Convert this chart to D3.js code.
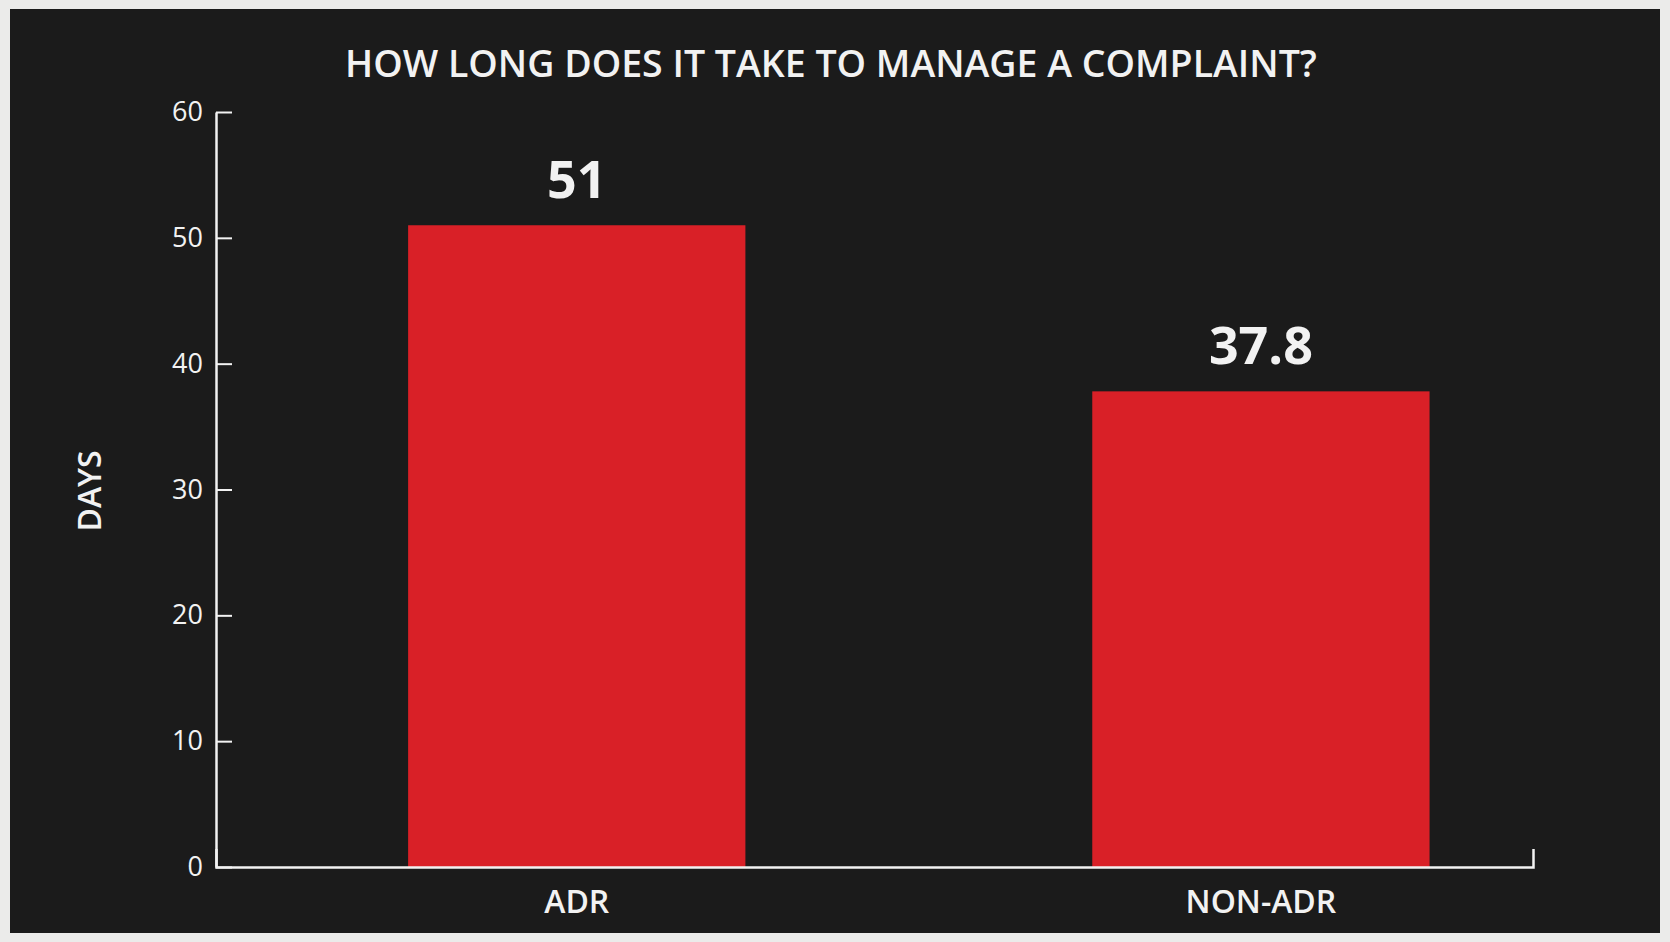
<!DOCTYPE html>
<html>
<head>
<meta charset="utf-8">
<script src="https://cdn.jsdelivr.net/npm/d3@7"></script>
<style>
  html, body { margin: 0; padding: 0; background: #ebebea; }
  svg { display: block; }
  text { font-family: "Open Sans", "Noto Sans", sans-serif; fill: #f2f2f2; }
</style>
</head>
<body>
<div id="chart"></div>
<script>
const categories = ["ADR", "NON-ADR"];
const values = [51, 37.8];
const valueLabels = ["51", "37.8"];
const yTicks = [0, 10, 20, 30, 40, 50, 60];
const title = "HOW LONG DOES IT TAKE TO MANAGE A COMPLAINT?";
const yLabel = "DAYS";

const width = 1670, height = 942;
const margin = {top: 112, right: 137, bottom: 75, left: 216};

const svg = d3.select("#chart").append("svg")
    .attr("width", width)
    .attr("height", height);

// light frame + dark panel
svg.append("rect")
    .attr("width", width).attr("height", height)
    .attr("fill", "#ebebea");
svg.append("rect")
    .attr("x", 10).attr("y", 9)
    .attr("width", 1650).attr("height", 924)
    .attr("fill", "#1b1b1b");

const x = d3.scaleBand()
    .domain(categories)
    .range([margin.left, width - margin.right])
    .paddingInner(0.507)
    .paddingOuter(0.216)
    .align(0.65);

const y = d3.scaleLinear()
    .domain([0, 60])
    .range([height - margin.bottom, margin.top]);

// bars
svg.append("g")
    .selectAll("rect")
    .data(categories)
    .join("rect")
        .attr("x", d => x(d))
        .attr("y", (d, i) => y(values[i]))
        .attr("width", x.bandwidth())
        .attr("height", (d, i) => y(0) - y(values[i]))
        .attr("fill", "#d92027");

// value labels
svg.append("g")
    .selectAll("text")
    .data(categories)
    .join("text")
        .attr("x", d => x(d) + x.bandwidth() / 2)
        .attr("y", (d, i) => y(values[i]) - 27)
        .attr("text-anchor", "middle")
        .attr("font-size", "52px")
        .attr("font-weight", 700)
        .text((d, i) => valueLabels[i]);

// y axis, ticks pointing inward
const yAxis = svg.append("g")
    .attr("transform", `translate(${margin.left},0)`)
    .call(d3.axisLeft(y).tickValues(yTicks).tickSizeInner(-16).tickSizeOuter(0).tickPadding(13));
yAxis.select(".domain").attr("stroke", "#f2f2f2").attr("stroke-width", 2.5);
yAxis.selectAll(".tick line").attr("stroke", "#f2f2f2").attr("stroke-width", 2);
yAxis.selectAll(".tick text")
    .attr("fill", "#f2f2f2")
    .attr("font-size", "27px")
    .attr("font-family", "'Open Sans', sans-serif");

// x axis with the small end tick on the right
const xAxis = svg.append("g")
    .attr("transform", `translate(0,${y(0)})`)
    .call(d3.axisBottom(x).tickSizeInner(0).tickSizeOuter(-18));
xAxis.select(".domain").attr("stroke", "#f2f2f2").attr("stroke-width", 2.5);
xAxis.selectAll(".tick text")
    .attr("y", 46)
    .attr("dy", 0)
    .attr("fill", "#f2f2f2")
    .attr("font-size", "32px")
    .attr("font-weight", 600)
    .attr("font-family", "'Open Sans', sans-serif");

// title
svg.append("text")
    .attr("x", 831)
    .attr("y", 77)
    .attr("text-anchor", "middle")
    .attr("font-size", "37.5px")
    .attr("font-weight", 600)
    .text(title);

// y axis label
svg.append("text")
    .attr("transform", "translate(101,491) rotate(-90)")
    .attr("text-anchor", "middle")
    .attr("font-size", "32px")
    .attr("font-weight", 600)
    .text(yLabel);
</script>
</body>
</html>
